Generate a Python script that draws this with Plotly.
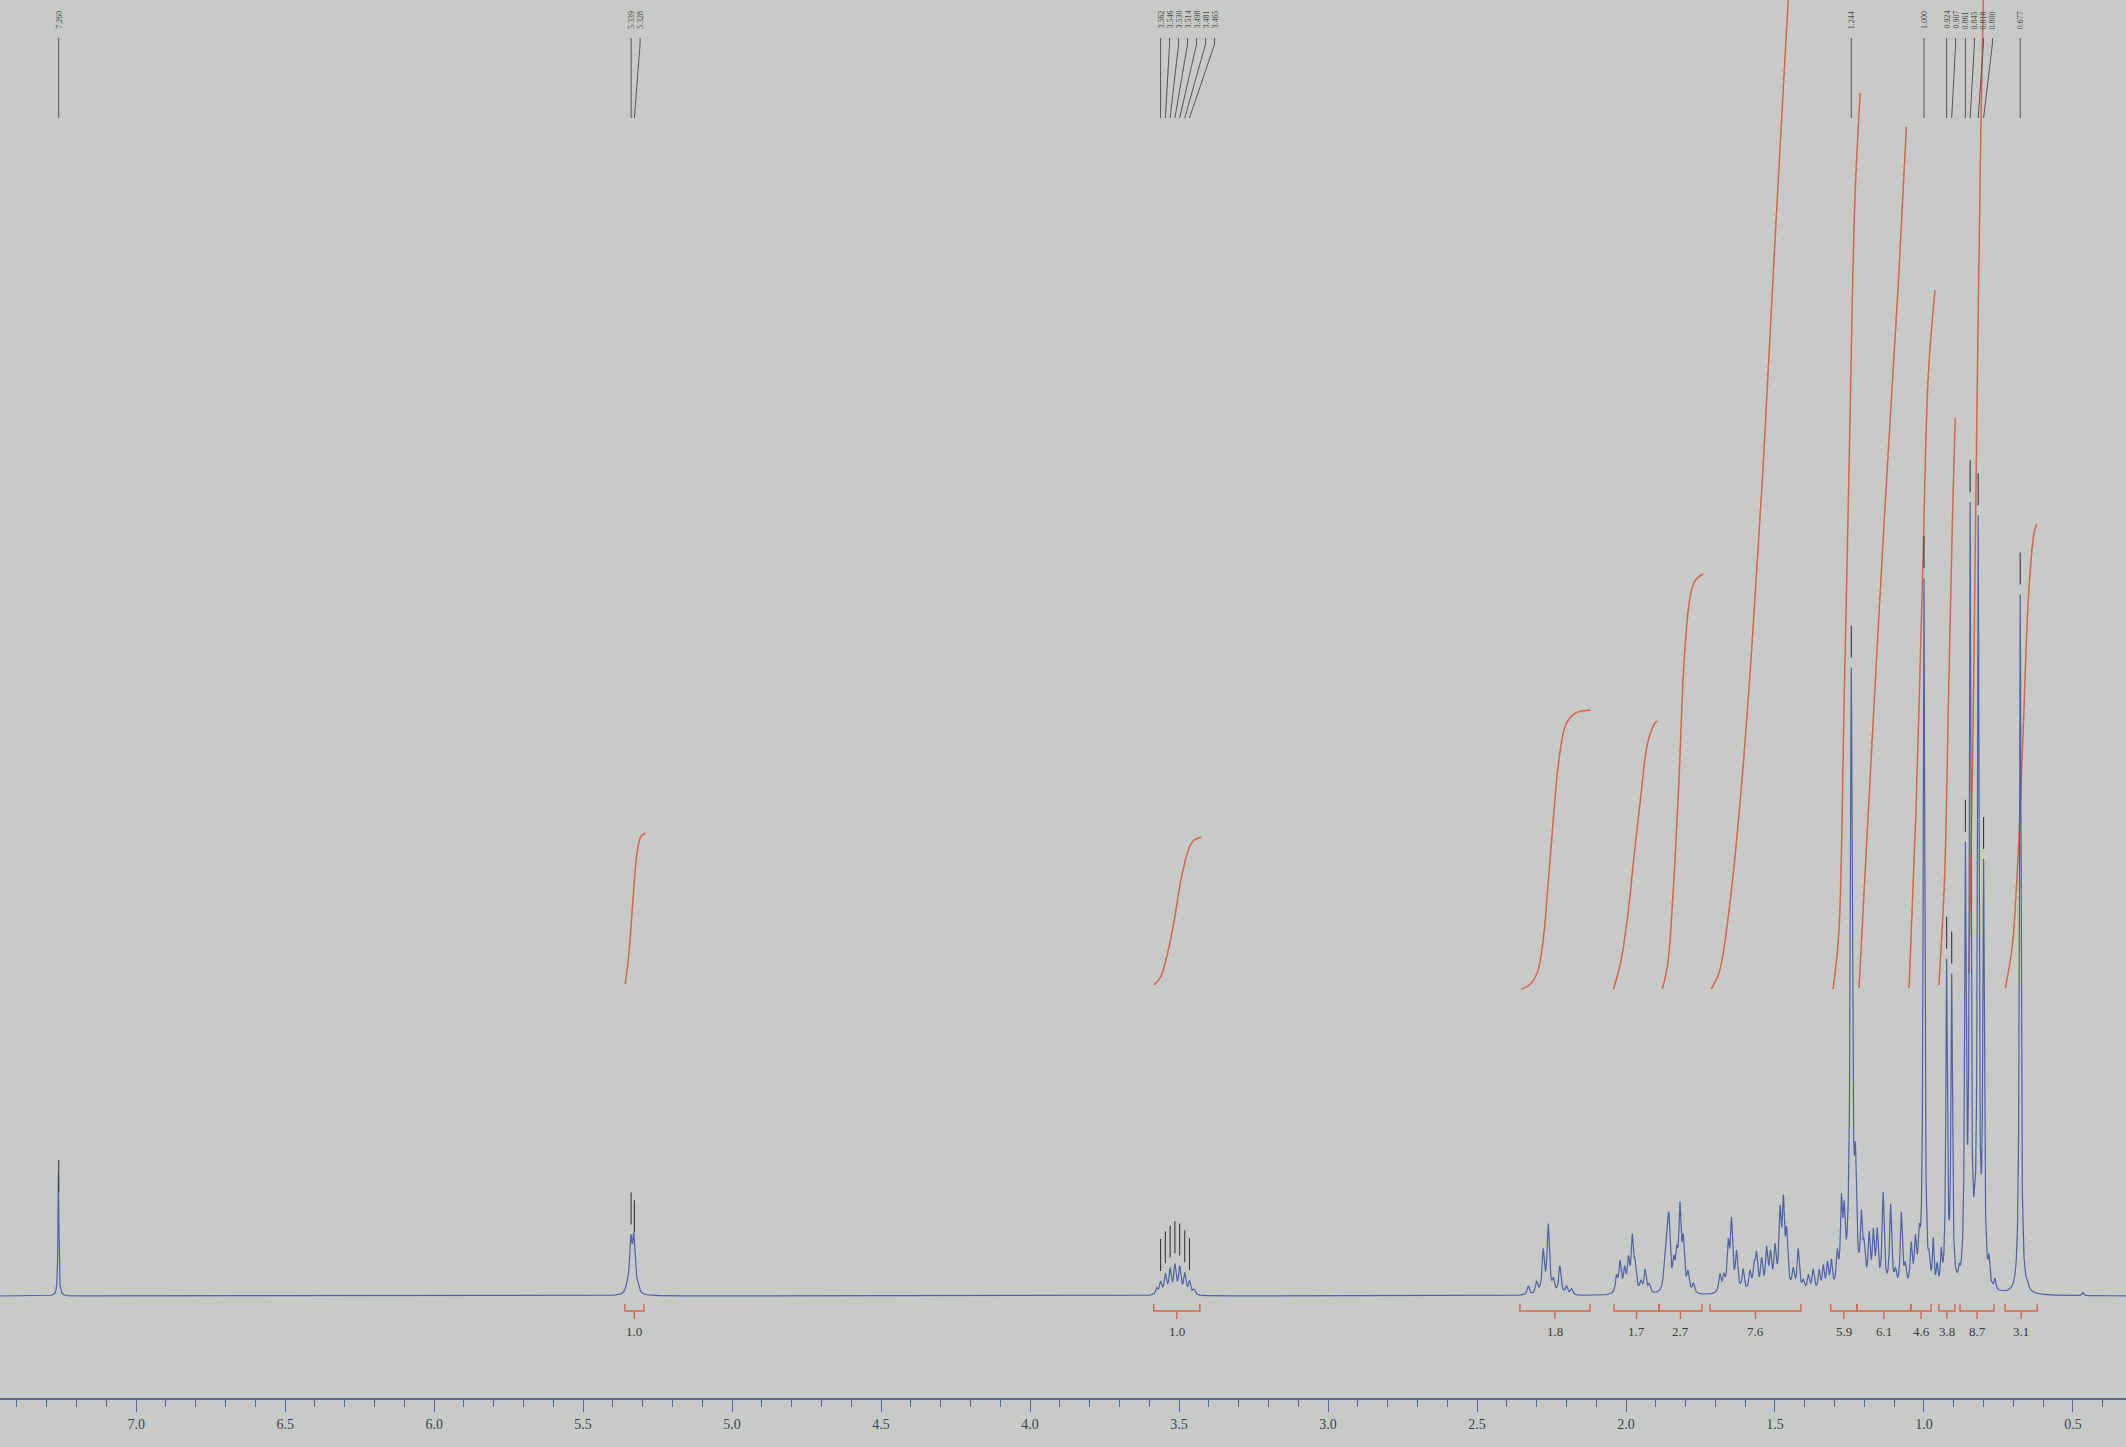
import numpy as np
import plotly.graph_objects as go

# ---------------- data ----------------
# spectrum lines: (ppm, height above baseline in px)
peaks_solvent = [(7.261, 123)]
peaks_olefin = [(5.352, 6), (5.340, 50), (5.330, 52), (5.318, 6)]
peaks_carbinol = [(3.575, 6), (3.562, 12), (3.546, 19), (3.530, 24), (3.514, 28),
                  (3.498, 26), (3.481, 20), (3.465, 13), (3.450, 5)]
peaks_allylic = [(2.328, 9), (2.300, 12), (2.278, 42), (2.261, 68), (2.244, 12),
                 (2.222, 28), (2.200, 8), (2.183, 6)]
peaks_m17 = [(2.032, 16), (2.020, 30), (2.005, 22), (1.992, 30), (1.979, 52),
             (1.970, 24), (1.950, 10), (1.936, 23), (1.922, 8)]
peaks_m27 = [(1.870, 24), (1.862, 40), (1.856, 62), (1.840, 24), (1.830, 30),
             (1.819, 80), (1.808, 46), (1.792, 18), (1.774, 9)]
peaks_m76 = [(1.685, 18), (1.672, 14), (1.657, 44), (1.646, 68), (1.629, 38),
             (1.607, 22), (1.584, 19), (1.570, 22), (1.562, 34), (1.545, 30),
             (1.528, 40), (1.515, 34), (1.500, 40), (1.483, 72), (1.472, 80),
             (1.461, 52), (1.439, 20), (1.422, 42), (1.405, 10), (1.388, 16),
             (1.372, 22)]
peaks_m59 = [(1.352, 20), (1.338, 24), (1.324, 26), (1.311, 28), (1.291, 32),
             (1.277, 78), (1.268, 62), (1.244, 615), (1.230, 100)]
peaks_m61 = [(1.210, 64), (1.201, 32), (1.184, 50), (1.170, 52), (1.157, 54),
             (1.137, 95), (1.112, 84), (1.096, 16), (1.076, 76), (1.063, 20),
             (1.043, 42), (1.029, 44), (1.016, 40)]
peaks_methyl = [(1.000, 710), (0.983, 18), (0.969, 45), (0.956, 20), (0.942, 32),
                (0.924, 322), (0.907, 306), (0.882, 10), (0.861, 420), (0.845, 765),
                (0.830, 30), (0.818, 755), (0.800, 410), (0.782, 22), (0.762, 10),
                (0.677, 700), (0.654, 6), (0.467, 3)]
line_widths = [0.0018, 0.005, 0.0045, 0.0045, 0.0045, 0.0045, 0.0045, 0.004, 0.0042, 0.003]

# picked peaks (labels on top)
picked_ppm = [7.260, 5.339, 5.328, 3.562, 3.546, 3.530, 3.514, 3.498, 3.481, 3.465,
              1.244, 1.000, 0.924, 0.907, 0.861, 0.845, 0.818, 0.800, 0.677]
picked_text = ["7.260", "5.339", "5.328", "3.562", "3.546", "3.530", "3.514", "3.498",
               "3.481", "3.465", "1.244", "1.000", "0.924", "0.907", "0.861", "0.845",
               "0.818", "0.800", "0.677"]

# integrals: value, bracket range (ppm)
integral_values = [1.0, 1.0, 1.8, 1.7, 2.7, 7.6, 5.9, 6.1, 4.6, 3.8, 8.7, 3.1]
integral_from = [5.360, 3.585, 2.356, 2.040, 1.889, 1.718, 1.313, 1.225, 1.044, 0.950, 0.879, 0.728]
integral_to = [5.296, 3.430, 2.121, 1.889, 1.745, 1.413, 1.225, 1.044, 0.976, 0.896, 0.765, 0.620]

# integral curves: ppm and curve level
int_curves_ppm = [
    [5.359, 5.350, 5.341, 5.332, 5.323, 5.314, 5.305, 5.291],
    [3.584, 3.562, 3.539, 3.516, 3.493, 3.471, 3.453, 3.425],
    [2.351, 2.324, 2.297, 2.278, 2.260, 2.242, 2.224, 2.201, 2.169, 2.119],
    [2.042, 2.019, 1.996, 1.974, 1.951, 1.928, 1.905, 1.896],
    [1.878, 1.860, 1.842, 1.823, 1.805, 1.787, 1.769, 1.741],
    [1.714, 1.687, 1.650, 1.614, 1.578, 1.541, 1.505, 1.468, 1.450],
    [1.305, 1.286, 1.268, 1.250, 1.232, 1.214],
    [1.218, 1.177, 1.132, 1.086, 1.059],
    [1.050, 1.027, 1.004, 0.986, 0.963],
    [0.950, 0.931, 0.918, 0.904, 0.895],
    [0.849, 0.836, 0.822, 0.808, 0.799],
    [0.727, 0.704, 0.686, 0.667, 0.649, 0.631, 0.622],
]
int_curves_level = [
    [312, 332, 362, 399, 433, 452, 460, 463],
    [311, 319, 342, 376, 417, 444, 455, 459],
    [307, 311, 324, 356, 417, 484, 539, 572, 583, 586],
    [307, 332, 376, 437, 498, 552, 572, 575],
    [307, 332, 403, 511, 634, 695, 715, 722],
    [307, 324, 396, 505, 647, 823, 1027, 1230, 1325],
    [307, 362, 593, 850, 1095, 1203],
    [308, 539, 783, 1013, 1169],
    [308, 484, 728, 918, 1006],
    [311, 417, 593, 783, 878],
    [322, 552, 891, 1189, 1325],
    [308, 349, 430, 566, 701, 762, 772],
]

# ---------------- styling ----------------
BG = "#c7cac7"
SPEC = "#4f62a8"
RED = "#d8644c"
DARK = "#4a4a4a"
W, H = 2126, 1447
BOTTOM = 49                  # px below plot area (axis)
BASE_PX = 1296               # baseline pixel row
Y_LO = -(H - BOTTOM - BASE_PX)
Y_HI = BASE_PX
X_LEFT, X_RIGHT = 7.457, 0.322
PX_PER_PPM = W / (X_LEFT - X_RIGHT)

groups = [peaks_solvent, peaks_olefin, peaks_carbinol, peaks_allylic, peaks_m17,
          peaks_m27, peaks_m76, peaks_m59, peaks_m61, peaks_methyl]

centers = np.array([c for g in groups for c, _ in g])
x = np.unique(np.concatenate([np.arange(X_RIGHT, X_LEFT, 0.0004), centers]))[::-1]


def spectrum(xx):
    yy = np.zeros_like(xx, dtype=float)
    for g, w in zip(groups, line_widths):
        for c, h in g:
            yy += h * w * w / ((xx - c) ** 2 + w * w)
    return yy


y = spectrum(x)

fig = go.Figure()

# integral curves
for px_, lv in zip(int_curves_ppm, int_curves_level):
    fig.add_trace(go.Scatter(x=px_, y=lv, mode="lines", line=dict(color=RED, width=1.5, shape="spline"),
                             hoverinfo="skip", showlegend=False))

# spectrum
fig.add_trace(go.Scatter(x=x, y=y, mode="lines", line=dict(color=SPEC, width=1.2),
                         hoverinfo="skip", showlegend=False))

# peak pick markers above peaks
mx, my = [], []
for p in picked_ppm:
    top = float(spectrum(np.array([p]))[0])
    mx += [p, p, None]
    my += [top + 10, top + 42, None]
fig.add_trace(go.Scatter(x=mx, y=my, mode="lines", line=dict(color="#3a3a3a", width=1.1),
                         hoverinfo="skip", showlegend=False))

# label lines at top and label text
lab_px = []
prev = -1e9
for p in picked_ppm:
    xp = (X_LEFT - p) * PX_PER_PPM
    xp = max(xp, prev + 9)
    lab_px.append(xp)
    prev = xp
lx, ly = [], []
for p, xp, t in zip(picked_ppm, lab_px, picked_text):
    lp = X_LEFT - xp / PX_PER_PPM
    lx += [lp, lp, p, None]
    ly += [BASE_PX - 38, BASE_PX - 44, BASE_PX - 118, None]
    fig.add_annotation(x=lp, y=BASE_PX - 20, text=t,
                       textangle=-90, showarrow=False, xanchor="center", yanchor="middle",
                       font=dict(family="Liberation Serif", size=8, color=DARK))
fig.add_trace(go.Scatter(x=lx, y=ly, mode="lines", line=dict(color="#555555", width=1),
                         hoverinfo="skip", showlegend=False))

# integral brackets and values
bx, by = [], []
for v, a, b in zip(integral_values, integral_from, integral_to):
    c = (a + b) / 2
    bx += [a, a, b, b, None, c, c, None]
    by += [-8, -15, -15, -8, None, -15, -23, None]
    fig.add_annotation(x=c, y=-35, text=f"{v:.1f}", showarrow=False,
                       font=dict(family="Liberation Serif", size=13, color="#3c3c3c"))
fig.add_trace(go.Scatter(x=bx, y=by, mode="lines", line=dict(color=RED, width=1.4),
                         hoverinfo="skip", showlegend=False))

fig.update_layout(
    width=W, height=H,
    margin=dict(l=0, r=0, t=0, b=BOTTOM),
    paper_bgcolor=BG, plot_bgcolor=BG,
    showlegend=False,
    xaxis=dict(range=[X_LEFT, X_RIGHT], showgrid=False, zeroline=False,
               showline=True, linecolor="#5666a6", linewidth=1.6,
               ticks="outside", ticklen=12, tickwidth=1.3, tickcolor="#5666a6",
               tick0=0, dtick=0.5, tickformat=".1f",
               tickfont=dict(family="Liberation Serif", size=14, color="#3e4352"),
               minor=dict(ticks="outside", ticklen=7, tickwidth=1.3, tickcolor="#5666a6", dtick=0.1)),
    yaxis=dict(range=[Y_LO, Y_HI], visible=False, showgrid=False, zeroline=False),
)

fig.write_html("out.html", config={"displayModeBar": False},
               post_script="document.body.style.margin='0';document.body.style.padding='0';document.documentElement.style.overflow='hidden';")
